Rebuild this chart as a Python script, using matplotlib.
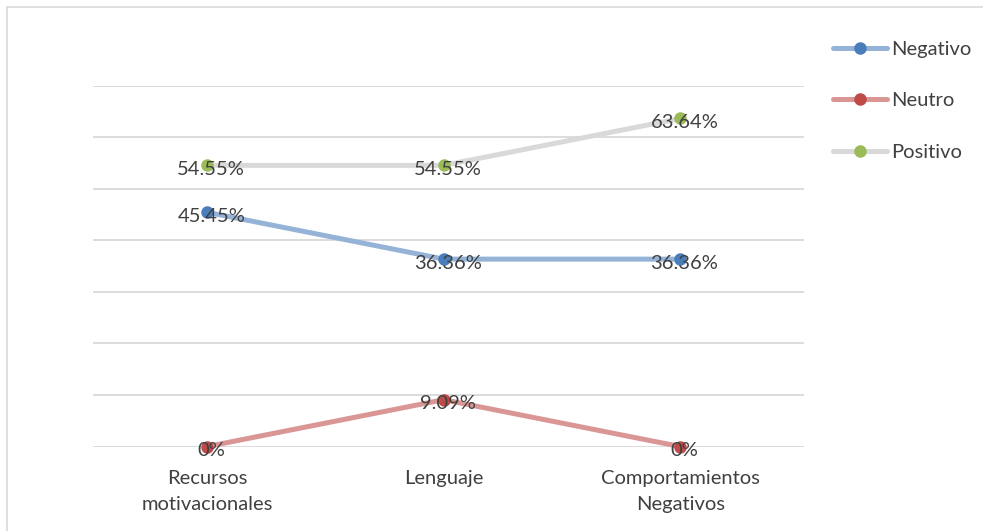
import matplotlib.pyplot as plt
from matplotlib.patches import Rectangle

categories = ['Recursos\nmotivacionales', 'Lenguaje', 'Comportamientos\nNegativos']
negativo = [45.45, 36.36, 36.36]
neutro = [0, 9.09, 0]
positivo = [54.55, 54.55, 63.64]
labels_neg = ['45.45%', '36.36%', '36.36%']
labels_neu = ['0%', '9.09%', '0%']
labels_pos = ['54.55%', '54.55%', '63.64%']

plt.rcParams['font.family'] = ['Lato', 'DejaVu Sans']
txt = '#404040'

fig = plt.figure(figsize=(9.83, 5.31), dpi=100)
ax = fig.add_axes([0.0946, 0.159, 0.8183 - 0.0946, 0.6796])

# frame around the chart area
fig.patches.append(Rectangle((7 / 983, -0.05), 1.1, 1 - 7 / 531 + 0.05,
                             transform=fig.transFigure, fill=False,
                             edgecolor='#d9d9d9', linewidth=1.2))

x = range(len(categories))
series = [
    ('Negativo', negativo, labels_neg, '#95b3d7', '#4a7ebb'),
    ('Neutro', neutro, labels_neu, '#d99694', '#be4b48'),
    ('Positivo', positivo, labels_pos, '#d9d9d9', '#9bbb59'),
]
for name, vals, labs, lc, mc in series:
    ax.plot(x, vals, color=lc, linewidth=3.6, marker='o', markersize=8,
            markerfacecolor=mc, markeredgecolor=mc, label=name,
            clip_on=False, solid_capstyle='round', zorder=3)
    for xi, v, s in zip(x, vals, labs):
        ax.annotate(s, (xi, v), xytext=(3, -3), textcoords='offset points',
                    ha='center', va='center', fontsize=14.5, color=txt, zorder=4)

ax.set_xlim(-0.482, 2.524)
ax.set_ylim(0, 70)
ax.set_yticks(range(0, 71, 10))
ax.set_yticklabels([])
ax.yaxis.grid(True, color='#d9d9d9', linewidth=1.3)
ax.set_axisbelow(True)
ax.tick_params(length=0)
ax.set_xticks(list(x))
ax.set_xticklabels(categories, fontsize=14.5, color=txt, linespacing=1.6)
ax.tick_params(axis='x', pad=17)
for s in ax.spines.values():
    s.set_visible(False)

leg = fig.legend(loc='upper left', bbox_to_anchor=(0.829, 0.957), frameon=False,
                 fontsize=14.5, labelspacing=1.7, handlelength=2.7, handletextpad=0.2,
                 labelcolor=txt)

plt.savefig('out.png', dpi=100)
